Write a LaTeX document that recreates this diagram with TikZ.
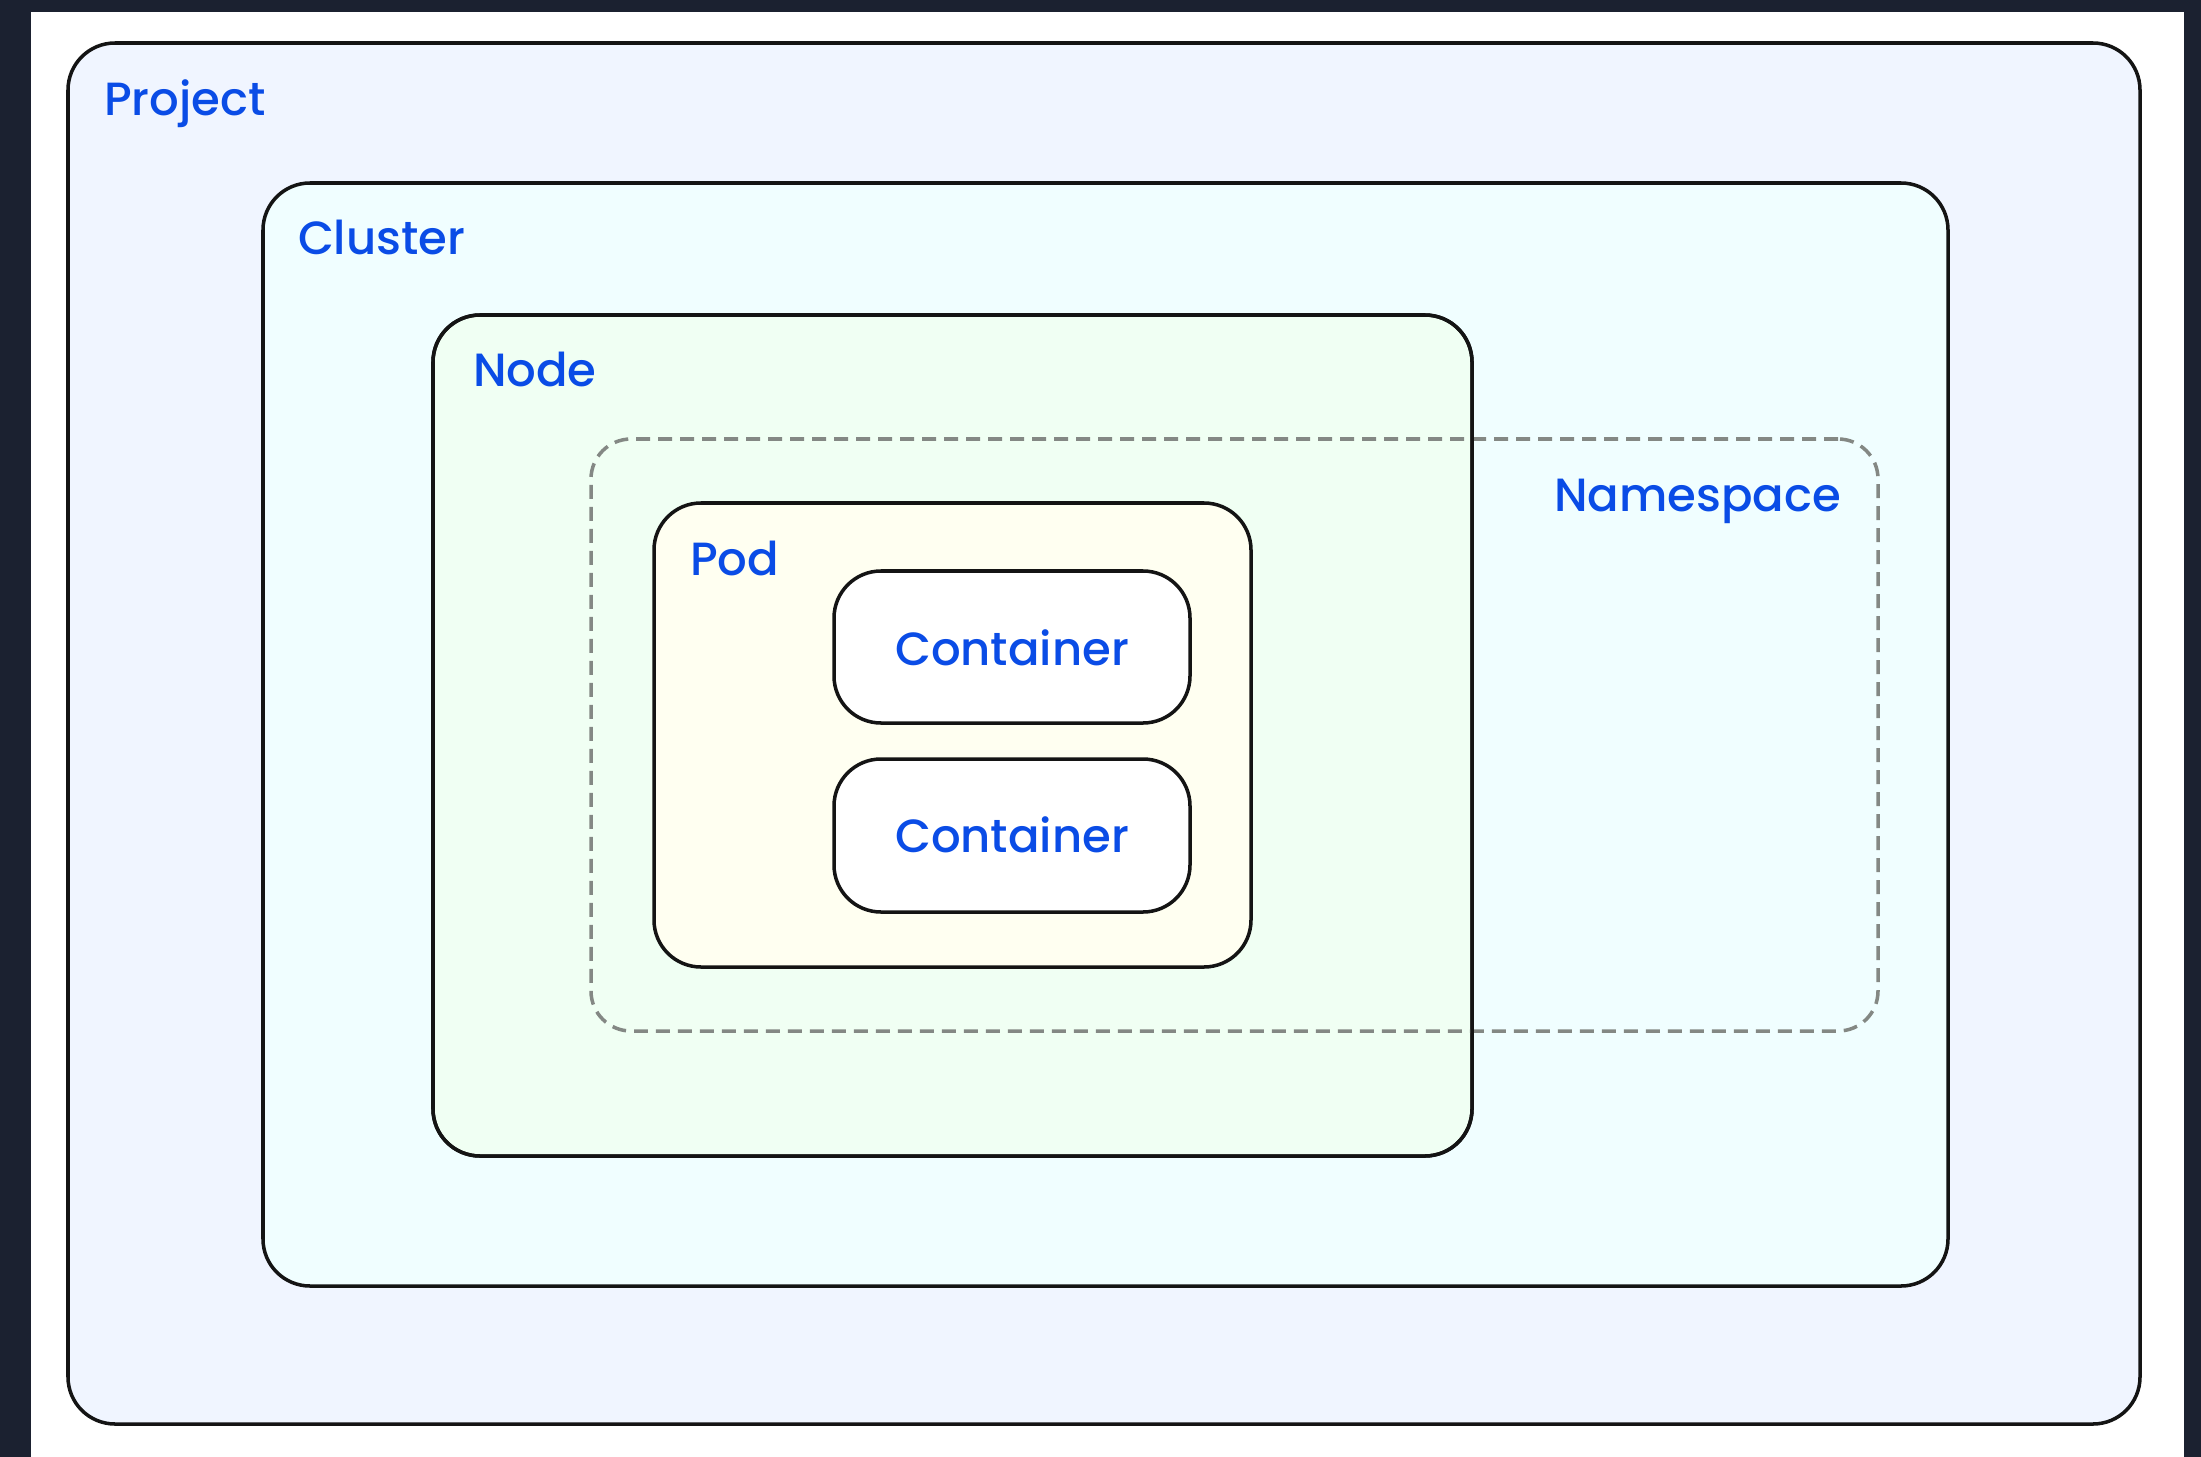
\documentclass[tikz,border=0pt]{standalone}
\usepackage{fontspec}
\setmainfont{Poppins}[UprightFont={* Medium}]
\usetikzlibrary{fit}
\definecolor{frame}{HTML}{1B2130}
\definecolor{labelblue}{HTML}{0A4CE6}
\definecolor{projectfill}{HTML}{F0F5FF}
\definecolor{clusterfill}{HTML}{F0FEFF}
\definecolor{nodefill}{HTML}{F0FFF3}
\definecolor{podfill}{HTML}{FFFFF1}
\definecolor{nsline}{HTML}{848884}
\tikzset{
  box/.style={draw=black!92, line width=2pt, rounded corners=0.94cm,
    inner sep=0pt, outer sep=0pt},
  nsbox/.style={draw=nsline, line width=2pt, rounded corners=0.8cm,
    dash pattern=on 0.28cm off 0.16cm, inner sep=0pt, outer sep=0pt},
  lbl/.style={text=labelblue, font=\fontsize{26.5pt}{30pt}\selectfont,
    inner sep=0pt, outer sep=0pt},
}
\begin{document}
\begin{tikzpicture}[x=0.02cm, y=-0.02cm]
  % page and dark frame
  \useasboundingbox (0,0) rectangle (2201,1457);
  \fill[frame] (0,0) rectangle (2201,1457);
  \fill[white] (31,12) rectangle (2184,1457);

  % nested boxes
  \node[box, fill=projectfill, fit={(68,43) (2140,1424)}] (project) {};
  \node[box, fill=clusterfill, fit={(263,183) (1948,1286)}] (cluster) {};
  \node[box, fill=nodefill, fit={(433,315) (1472,1156)}] (knode) {};
  \node[nsbox, fit={(591,439) (1878,1031)}] (namespace) {};
  % node border stays above the dashed namespace outline
  \draw[draw=black!92, line width=2pt, rounded corners=0.94cm]
    (knode.south west) rectangle (knode.north east);
  \node[box, fill=podfill, fit={(654,503) (1251,967)}] (pod) {};
  \node[box, fill=white, fit={(834,571) (1190,723)}] (c1) {};
  \node[box, fill=white, fit={(834,759) (1190,912)}] (c2) {};

  % labels
  \node[lbl, anchor=base west] (projectlbl) at (104,115) {Project};
  \node[lbl, anchor=base west] (clusterlbl) at (298,254) {Cluster};
  \node[lbl, anchor=base west] (nodelbl) at (473,386) {Node};
  \node[lbl, anchor=base east] (namespacelbl) at (1841,511) {Namespace};
  \node[lbl, anchor=base west] (podlbl) at (690,575) {Pod};
  \node[lbl, anchor=base] (c1lbl) at (1012,665) {Container};
  \node[lbl, anchor=base] (c2lbl) at (1012,852) {Container};
\end{tikzpicture}
\end{document}
